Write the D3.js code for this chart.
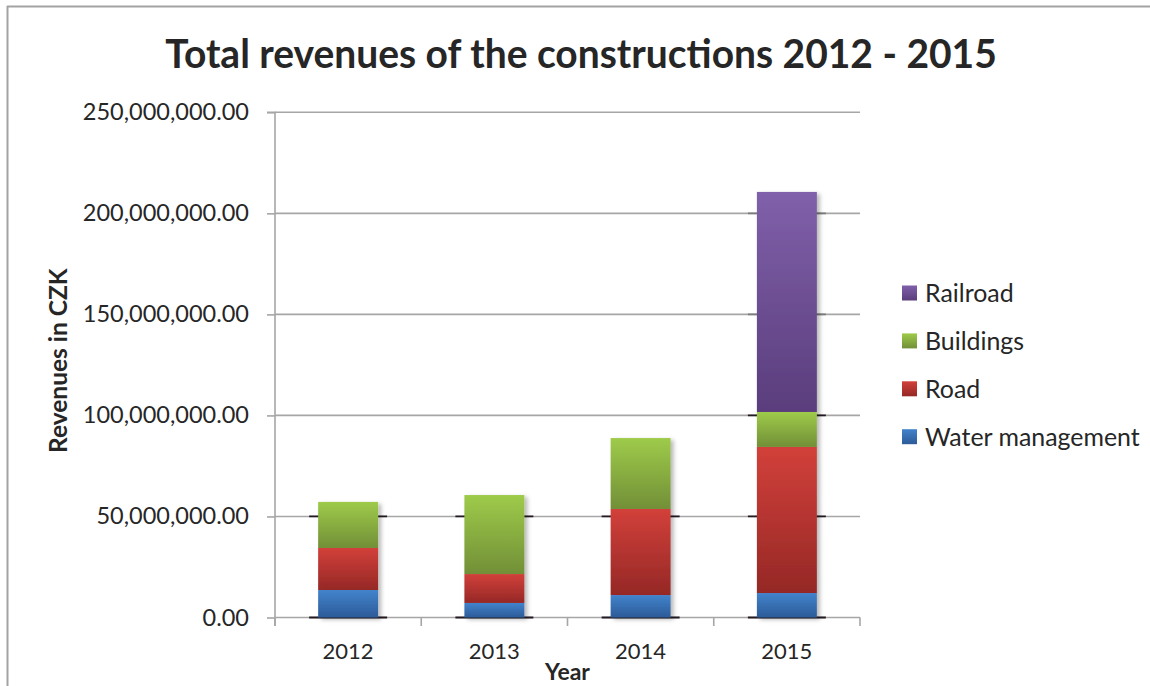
<!DOCTYPE html>
<html>
<head>
<meta charset="utf-8">
<script src="https://cdn.jsdelivr.net/npm/d3@7"></script>
<style>
  html, body { margin: 0; padding: 0; background: #ffffff; }
  svg { display: block; }
  text { font-family: Lato, "Open Sans", sans-serif; fill: #262626; }
</style>
</head>
<body>
<svg id="chart" width="1150" height="686"></svg>
<script>
// Revenue per construction type (CZK)
const categories = ["2012", "2013", "2014", "2015"];
const seriesNames = ["Water management", "Road", "Buildings", "Railroad"];
const waterManagement = [13.6e6, 7.2e6, 11.1e6, 12.1e6];
const road = [20.8e6, 14.3e6, 42.6e6, 72.3e6];
const buildings = [22.8e6, 39.1e6, 35.1e6, 17.3e6];
const railroad = [0, 0, 0, 108.9e6];
const yTickValues = [0, 50e6, 100e6, 150e6, 200e6, 250e6];

const titleText = "Total revenues of the constructions 2012 - 2015";
const xTitle = "Year";
const yTitle = "Revenues in CZK";

const colors = {
  "Water management": ["#4283cc", "#2c5b98"],
  "Road": ["#d2403a", "#952826"],
  "Buildings": ["#9ecb4a", "#728f37"],
  "Railroad": ["#8060aa", "#5a3d7c"]
};

const rows = categories.map((c, i) => ({
  year: c,
  "Water management": waterManagement[i],
  "Road": road[i],
  "Buildings": buildings[i],
  "Railroad": railroad[i]
}));

const svg = d3.select("#chart");
const W = 1150, H = 686;
const plot = { left: 275, right: 860, top: 112.3, bottom: 617.5 };

// Gradients and shadow
const defs = svg.append("defs");
seriesNames.forEach((name, i) => {
  const g = defs.append("linearGradient")
    .attr("id", "grad" + i)
    .attr("x1", 0).attr("y1", 0).attr("x2", 0).attr("y2", 1);
  g.append("stop").attr("offset", "0%").attr("stop-color", colors[name][0]);
  g.append("stop").attr("offset", "100%").attr("stop-color", colors[name][1]);
});
const shadow = defs.append("filter").attr("id", "shadow")
  .attr("x", "-20%").attr("y", "-5%").attr("width", "140%").attr("height", "115%");
shadow.append("feDropShadow")
  .attr("dx", 3).attr("dy", 2).attr("stdDeviation", 2.2)
  .attr("flood-color", "#000").attr("flood-opacity", 0.28);

// Outer frame (top and left edges)
svg.append("line").attr("x1", 7).attr("x2", W).attr("y1", 6.5).attr("y2", 6.5)
  .attr("stroke", "#a3a3a3").attr("stroke-width", 2);
svg.append("line").attr("x1", 7.5).attr("x2", 7.5).attr("y1", 6).attr("y2", H)
  .attr("stroke", "#a3a3a3").attr("stroke-width", 2);

// Scales
const x = d3.scaleBand().domain(categories)
  .range([plot.left, plot.right]).paddingInner(0.59).paddingOuter(0.295);
const y = d3.scaleLinear().domain([0, 250e6]).range([plot.bottom, plot.top]);

// Gridlines
svg.append("g").selectAll("line").data(yTickValues).join("line")
  .attr("x1", plot.left).attr("x2", plot.right)
  .attr("y1", d => y(d)).attr("y2", d => y(d))
  .attr("stroke", "#a6a6a6").attr("stroke-width", 1.6);

// Y axis
const yAxis = svg.append("g").attr("transform", `translate(${plot.left},0)`)
  .call(d3.axisLeft(y).tickValues(yTickValues).tickSize(8).tickPadding(18)
    .tickFormat(d3.format(",.2f")));
yAxis.select(".domain").attr("stroke", "#a6a6a6").attr("stroke-width", 1.6)
  .attr("d", `M-8,${plot.top}H0V${plot.bottom + 8.5}`);
yAxis.selectAll(".tick line").attr("stroke", "#a6a6a6").attr("stroke-width", 1.6);
yAxis.selectAll(".tick text").attr("font-size", 23.5).attr("fill", "#262626")
  .attr("font-family", "Lato, sans-serif");

// X axis: ticks at category boundaries
const step = x.step();
const boundaries = d3.range(categories.length + 1).map(i => plot.left + i * step);
svg.append("g").selectAll("line").data(boundaries).join("line")
  .attr("x1", d => d).attr("x2", d => d)
  .attr("y1", plot.bottom).attr("y2", plot.bottom + 8.5)
  .attr("stroke", "#a6a6a6").attr("stroke-width", 1.6);
svg.append("g").selectAll("text").data(categories).join("text")
  .attr("x", d => x(d) + x.bandwidth() / 2)
  .attr("y", 659)
  .attr("text-anchor", "middle")
  .attr("font-size", 22)
  .text(d => d);

// Stacked bars
const stack = d3.stack().keys(seriesNames)(rows);
const totals = rows.map(r => d3.sum(seriesNames, k => r[k]));

// Dark edge artefacts where bar shadows cross gridlines
const edgeMarks = [];
categories.forEach((c, i) => {
  yTickValues.forEach(v => {
    if (v <= totals[i]) edgeMarks.push({ c, v });
  });
});
svg.append("g").selectAll("line").data(edgeMarks).join("line")
  .attr("x1", d => x(d.c) - 9).attr("x2", d => x(d.c) + x.bandwidth() + 9)
  .attr("y1", d => y(d.v)).attr("y2", d => y(d.v))
  .attr("stroke", d => d.v > 100e6 ? "#7d7d7d" : "#231a23")
  .attr("stroke-width", d => d.v === 0 ? 2.2 : 1.8);

const barLayer = svg.append("g").attr("filter", "url(#shadow)");
stack.forEach((layer, si) => {
  barLayer.append("g").selectAll("rect").data(layer.filter(d => d[1] > d[0])).join("rect")
    .attr("x", d => x(d.data.year))
    .attr("width", x.bandwidth())
    .attr("y", d => y(d[1]))
    .attr("height", d => y(d[0]) - y(d[1]))
    .attr("fill", `url(#grad${si})`);
});

// Title (condensed horizontally to the chart's title width)
const title = svg.append("text")
  .attr("x", 581).attr("y", 68)
  .attr("text-anchor", "middle")
  .attr("font-weight", "bold")
  .attr("font-size", 40)
  .attr("fill", "#1a1a1a")
  .text(titleText);
const tw = title.node().getComputedTextLength();
title.attr("transform", `translate(581,0) scale(${832 / tw},1) translate(-581,0)`);

// Axis titles
svg.append("text")
  .attr("x", 567.5).attr("y", 680)
  .attr("text-anchor", "middle")
  .attr("font-weight", "bold")
  .attr("font-size", 23)
  .attr("fill", "#1a1a1a")
  .text(xTitle);
svg.append("text")
  .attr("transform", `translate(67,453) rotate(-90)`)
  .attr("text-anchor", "start")
  .attr("font-weight", "bold")
  .attr("font-size", 24.5)
  .attr("fill", "#1a1a1a")
  .text(yTitle);

// Legend (top entry = last series)
const legendOrder = seriesNames.slice().reverse();
const legend = svg.append("g").selectAll("g").data(legendOrder).join("g")
  .attr("transform", (d, i) => `translate(902,${293 + i * 47.9})`);
legend.append("rect")
  .attr("x", 0).attr("y", -7.5).attr("width", 15).attr("height", 15)
  .attr("fill", d => `url(#grad${seriesNames.indexOf(d)})`);
legend.append("text")
  .attr("x", 23).attr("y", 0).attr("dy", "0.36em")
  .attr("font-size", 24.9)
  .text(d => d);
</script>
</body>
</html>
